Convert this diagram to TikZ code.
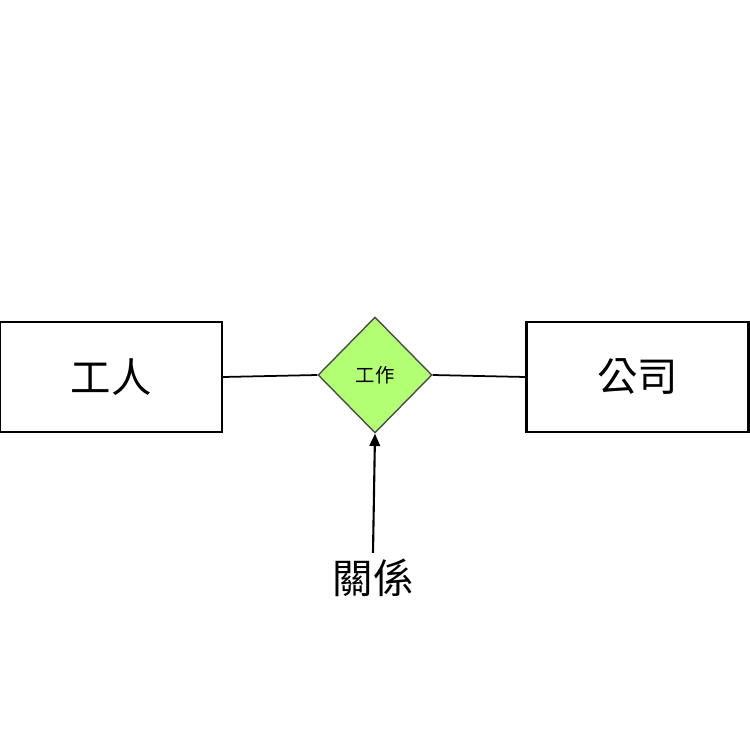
\documentclass[tikz,border=0pt]{standalone}
\usepackage{fontspec}
\setmainfont{Noto Sans CJK TC}
\usetikzlibrary{shapes.geometric,arrows.meta}
\begin{document}
\begin{tikzpicture}[x=0.02cm,y=-0.02cm,
  ent/.style={draw=black,line width=1.2pt,minimum width=4.44cm,minimum height=2.2cm,inner sep=0pt},
  rel/.style={diamond,draw=black!70,fill=green!55!yellow!55!white,minimum width=2.28cm,minimum height=2.32cm,inner sep=0pt,line width=0.8pt},
  big/.style={font=\fontsize{23}{28}\selectfont}]
\useasboundingbox (0,0) rectangle (750,750);
\fill[white] (0,0) rectangle (750,750);
\node[ent,big] (w) at (111,377) {工人};
\node[ent,big] (c) at (637.5,377) {公司};
\node[rel,font=\fontsize{11}{13}\selectfont] (r) at (375,375) {工作};
\node[big] (g) at (373,578) {關係};
\draw[line width=1pt] (w.east) -- (r.west);
\draw[line width=1pt] (r.east) -- (c.west);
\draw[line width=1.2pt,-{Triangle[length=7pt,width=6pt]}] (g.north) -- (r.south);
\end{tikzpicture}
\end{document}
